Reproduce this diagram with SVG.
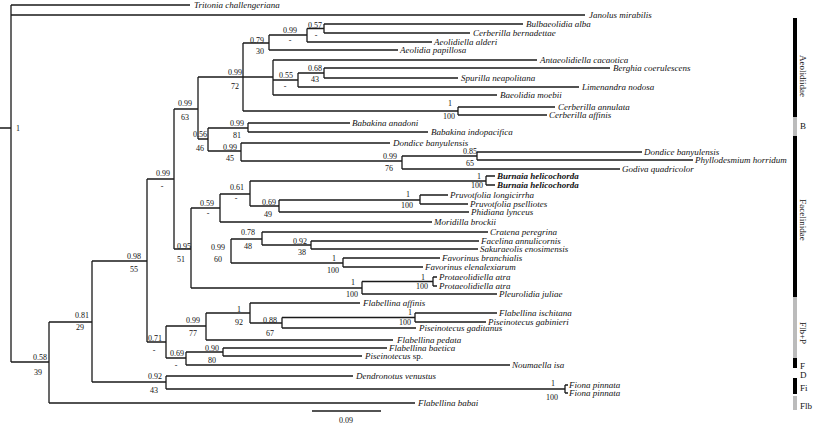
<svg xmlns="http://www.w3.org/2000/svg" width="813" height="424" viewBox="0 0 813 424">
<style>
.br{fill:none;stroke:#1a1a1a;stroke-width:1.3}
.sp{font-family:"Liberation Serif",serif;font-style:italic;font-size:9px;fill:#111}
.bd{font-weight:bold}
.n{font-family:"Liberation Serif",serif;font-size:8px;fill:#111;text-anchor:middle}
.g{font-family:"Liberation Serif",serif;font-size:9px;fill:#111}
</style>
<rect width="813" height="424" fill="#fff"/>
<g id="connectors" class="br">
<path d="M0 128H11M11 5V362M11 5H190M11 15H585M11 362H49"/>
<path d="M49 322V403M49 403H415M49 322H92"/>
<path d="M92 261V382M92 382H166M92 261H147"/>
<path d="M166 376V389M166 376H353M166 389H565"/>
<path d="M565 385V393M565 385H568M565 393H568"/>
<path d="M147 179V342M147 179H174M147 342H166"/>
<path d="M174 109V249M174 109H198M174 249H191"/>
<path d="M198 77V139M198 77H243M198 139H208"/>
<path d="M243 43V111M243 43H269M243 77H273M243 111H458"/>
<path d="M269 35V50M269 35H307M269 50H398"/>
<path d="M307 28.5V42M307 28.5H324M307 42H432"/>
<path d="M324 24V33M324 24H523M324 33H470"/>
<path d="M273 60V95M273 60H537M273 80H298M273 95H497"/>
<path d="M298 73V87M298 73H324M298 87H579"/>
<path d="M324 68V78M324 68H610M324 78H458"/>
<path d="M458 107V115M458 107H555M458 115H547"/>
<path d="M208 128V151M208 128H248M208 151H241"/>
<path d="M248 123V132M248 123H350M248 132H428"/>
<path d="M241 143V161M241 143H390M241 161H402"/>
<path d="M402 156V169M402 156H477M402 169H620"/>
<path d="M477 152V160M477 152H642M477 160H693"/>
<path d="M191 208V288M191 208H220M191 288H362"/>
<path d="M220 194V222M220 194H250M220 222H432"/>
<path d="M250 181V206M250 181H486M250 206H279"/>
<path d="M486 176V185M486 176H495M486 185H495"/>
<path d="M279 200V212M279 200H420M279 212H469"/>
<path d="M420 195V204M420 195H448M420 204H468"/>
<path d="M231 239V263M231 239H262M231 263H343"/>
<path d="M262 232V245M262 232H488M262 245H311"/>
<path d="M311 241V249M311 241H479M311 249H478"/>
<path d="M343 258V267M343 258H440M343 267H423"/>
<path d="M362 281.5V294M362 281.5H433M362 294H497"/>
<path d="M433 277V286M433 277H437M433 286H437"/>
<path d="M166 326V358M166 326H206M166 358H186"/>
<path d="M206 313V340M206 313H250M206 340H393"/>
<path d="M250 303V323M250 303H360M250 323H282"/>
<path d="M282 317.5V328M282 317.5H415M282 328H416"/>
<path d="M415 313V322M415 313H497M415 322H486"/>
<path d="M186 352V365M186 352H223M186 365H510"/>
<path d="M223 348V356M223 348H387M223 356H362"/>
<path d="M312 411H381"/>
</g>
<g id="leaves">
<text class="sp" x="194" y="8">Tritonia challengeriana</text>
<text class="sp" x="589" y="18">Janolus mirabilis</text>
<text class="sp" x="526" y="27">Bulbaeolidia alba</text>
<text class="sp" x="473" y="36">Cerberilla bernadettae</text>
<text class="sp" x="434" y="45">Aeolidiella alderi</text>
<text class="sp" x="400" y="53">Aeolidia papillosa</text>
<text class="sp" x="540" y="63">Antaeolidiella cacaotica</text>
<text class="sp" x="613" y="71">Berghia coerulescens</text>
<text class="sp" x="461" y="81">Spurilla neapolitana</text>
<text class="sp" x="582" y="90">Limenandra nodosa</text>
<text class="sp" x="500" y="98">Baeolidia moebii</text>
<text class="sp" x="558" y="110">Cerberilla annulata</text>
<text class="sp" x="549" y="118">Cerberilla affinis</text>
<text class="sp" x="352" y="126">Babakina anadoni</text>
<text class="sp" x="431" y="135">Babakina indopacifica</text>
<text class="sp" x="393" y="146">Dondice banyulensis</text>
<text class="sp" x="644" y="155">Dondice banyulensis</text>
<text class="sp" x="695" y="163">Phyllodesmium horridum</text>
<text class="sp" x="622" y="172">Godiva quadricolor</text>
<text class="sp bd" x="497" y="179">Burnaia helicochorda</text>
<text class="sp bd" x="497" y="188">Burnaia helicochorda</text>
<text class="sp" x="450" y="198">Pruvotfolia longicirrha</text>
<text class="sp" x="470" y="207">Pruvotfolia pselliotes</text>
<text class="sp" x="471" y="215">Phidiana lynceus</text>
<text class="sp" x="434" y="225">Moridilla brockii</text>
<text class="sp" x="490" y="235">Cratena peregrina</text>
<text class="sp" x="481" y="244">Facelina annulicornis</text>
<text class="sp" x="480" y="252">Sakuraeolis enosimensis</text>
<text class="sp" x="442" y="261">Favorinus branchialis</text>
<text class="sp" x="425" y="270">Favorinus elenalexiarum</text>
<text class="sp" x="439" y="280">Protaeolidiella atra</text>
<text class="sp" x="439" y="289">Protaeolidiella atra</text>
<text class="sp" x="499" y="297">Pleurolidia juliae</text>
<text class="sp" x="363" y="306">Flabellina affinis</text>
<text class="sp" x="499" y="316">Flabellina ischitana</text>
<text class="sp" x="488" y="325">Piseinotecus gabinieri</text>
<text class="sp" x="419" y="331">Piseinotecus gaditanus</text>
<text class="sp" x="397" y="343">Flabellina pedata</text>
<text class="sp" x="389" y="351">Flabellina baetica</text>
<text class="sp" x="365" y="359">Piseinotecus<tspan font-style="normal"> sp.</tspan></text>
<text class="sp" x="512" y="368">Noumaella isa</text>
<text class="sp" x="356" y="379">Dendronotus venustus</text>
<text class="sp" x="569" y="388">Fiona pinnata</text>
<text class="sp" x="569" y="396">Fiona pinnata</text>
<text class="sp" x="418" y="406">Flabellina babai</text>
</g>
<g id="supports">
<text class="n" x="18" y="131">1</text>
<text class="n" x="40" y="360">0.58</text><text class="n" x="38" y="375">39</text>
<text class="n" x="82" y="318">0.81</text><text class="n" x="80" y="330">29</text>
<text class="n" x="134" y="259">0.98</text><text class="n" x="134" y="272">55</text>
<text class="n" x="163" y="176">0.99</text><text class="n" x="162" y="189">-</text>
<text class="n" x="185" y="106">0.99</text><text class="n" x="185" y="120">63</text>
<text class="n" x="235" y="75">0.99</text><text class="n" x="235" y="89">72</text>
<text class="n" x="257" y="43">0.79</text><text class="n" x="260" y="54">30</text>
<text class="n" x="290" y="33">0.99</text><text class="n" x="290" y="43">-</text>
<text class="n" x="315" y="28">0.57</text><text class="n" x="316" y="38">-</text>
<text class="n" x="286" y="78">0.55</text><text class="n" x="285" y="89">-</text>
<text class="n" x="315" y="71">0.68</text><text class="n" x="315" y="82">43</text>
<text class="n" x="450" y="106">1</text><text class="n" x="449" y="119">100</text>
<text class="n" x="237" y="126">0.99</text><text class="n" x="237" y="138">81</text>
<text class="n" x="200" y="137">0.56</text><text class="n" x="200" y="151">46</text>
<text class="n" x="230" y="150">0.99</text><text class="n" x="230" y="161">45</text>
<text class="n" x="390" y="159">0.99</text><text class="n" x="389" y="171">76</text>
<text class="n" x="470" y="154">0.85</text><text class="n" x="470" y="166">65</text>
<text class="n" x="479" y="179">1</text><text class="n" x="477" y="188">100</text>
<text class="n" x="237" y="190">0.61</text><text class="n" x="236" y="201">-</text>
<text class="n" x="207" y="206">0.59</text><text class="n" x="208" y="216">-</text>
<text class="n" x="269" y="205">0.69</text><text class="n" x="268" y="217">49</text>
<text class="n" x="408" y="197">1</text><text class="n" x="407" y="208">100</text>
<text class="n" x="184" y="249">0.95</text><text class="n" x="181" y="262">51</text>
<text class="n" x="218" y="250">0.99</text><text class="n" x="218" y="262">60</text>
<text class="n" x="248" y="235">0.78</text><text class="n" x="248" y="249">48</text>
<text class="n" x="300" y="244">0.92</text><text class="n" x="302" y="255">38</text>
<text class="n" x="334" y="261">1</text><text class="n" x="333" y="273">100</text>
<text class="n" x="353" y="285">1</text><text class="n" x="352" y="297">100</text>
<text class="n" x="423" y="280">1</text><text class="n" x="422" y="289">100</text>
<text class="n" x="155" y="341">0.71</text><text class="n" x="154" y="353">-</text>
<text class="n" x="193" y="323">0.99</text><text class="n" x="193" y="336">77</text>
<text class="n" x="239" y="312">1</text><text class="n" x="239" y="325">92</text>
<text class="n" x="270" y="323">0.88</text><text class="n" x="270" y="336">67</text>
<text class="n" x="410" y="315">1</text><text class="n" x="405" y="325">100</text>
<text class="n" x="177" y="356">0.69</text><text class="n" x="176" y="368">-</text>
<text class="n" x="212" y="351">0.90</text><text class="n" x="212" y="363">80</text>
<text class="n" x="155" y="379">0.92</text><text class="n" x="154" y="393">43</text>
<text class="n" x="553" y="386">1</text><text class="n" x="552" y="400">100</text>
<text class="n" x="346" y="423">0.09</text>
</g>
<g id="groups">
<rect x="793" y="18" width="4" height="99" fill="#000"/>
<rect x="793" y="117" width="4" height="19" fill="#bbb"/>
<rect x="793" y="136" width="4" height="161" fill="#000"/>
<rect x="793" y="297" width="4" height="61" fill="#bbb"/>
<rect x="793" y="358" width="4" height="10" fill="#000"/>
<rect x="793" y="378" width="4" height="16" fill="#000"/>
<rect x="793" y="396" width="4" height="14" fill="#bbb"/>
<text class="g" text-anchor="middle" transform="translate(800 76) rotate(90)">Aeolidiidae</text>
<text class="g" x="800" y="129">B</text>
<text class="g" text-anchor="middle" transform="translate(800 220) rotate(90)">Facelinidae</text>
<text class="g" text-anchor="middle" transform="translate(800 333) rotate(90)">Flb+P</text>
<text class="g" x="800" y="369">F</text>
<text class="g" x="800" y="378">D</text>
<text class="g" x="800" y="391">Fi</text>
<text class="g" x="800" y="409">Flb</text>
</g>
</svg>
